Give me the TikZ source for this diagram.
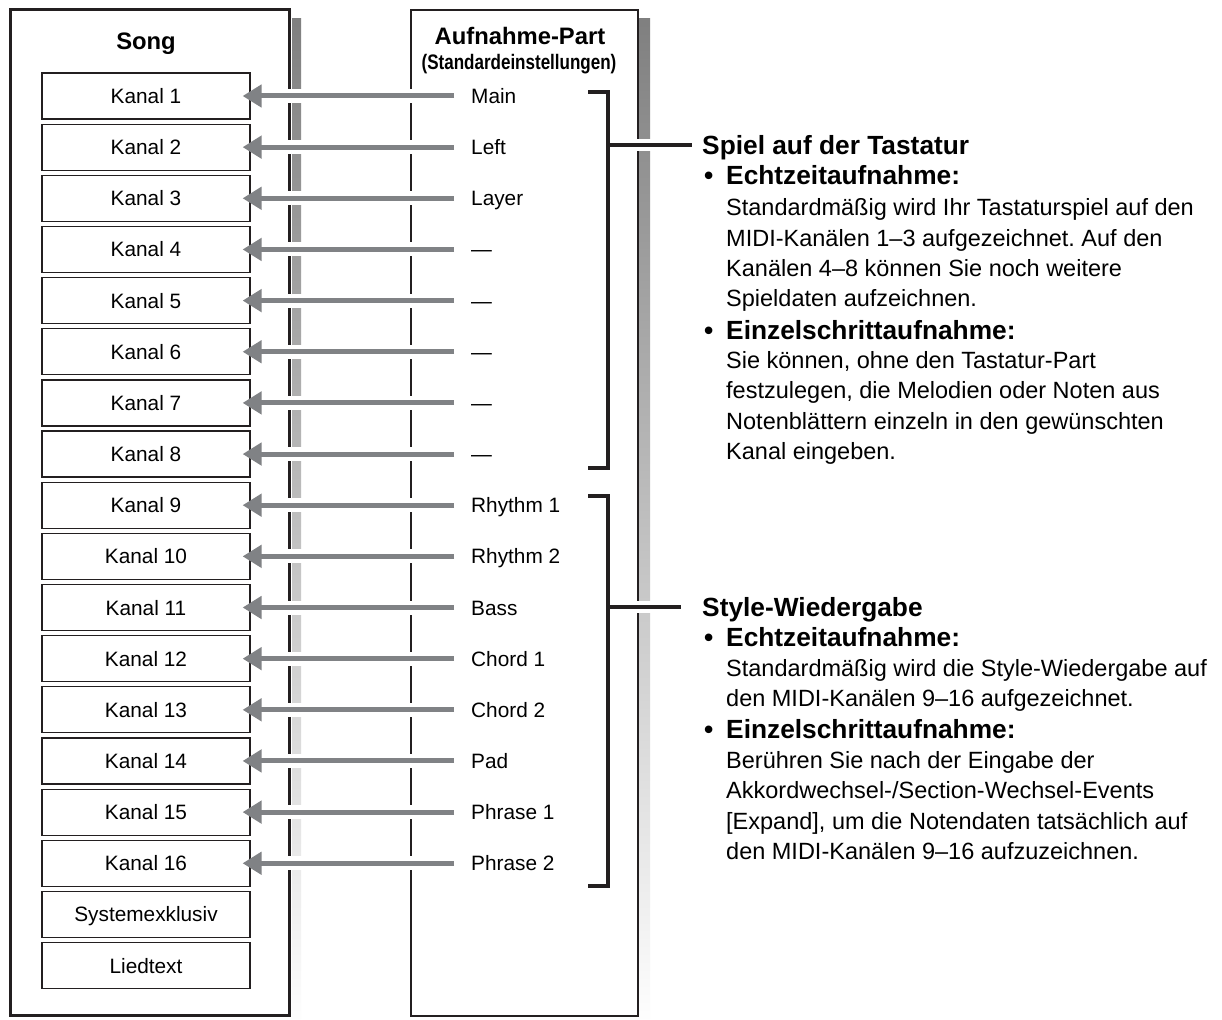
\documentclass[tikz,border=0pt]{standalone}
\usepackage{fontspec}
\setmainfont{Liberation Sans}
\usepackage{graphicx}
\usetikzlibrary{arrows.meta}
\definecolor{ink}{HTML}{231F20}
\definecolor{arrowgray}{HTML}{808285}
\definecolor{shade}{HTML}{D1D3D4}
\frenchspacing
\begin{document}
\begin{tikzpicture}[x=1pt,y=-1pt,
  chan/.style={draw=ink, line width=1.2pt, minimum width=208pt, minimum height=46pt, inner sep=0pt, text height=15pt, text depth=0pt, font=\fontsize{20.8}{24}\selectfont},
  part/.style={anchor=west, inner sep=0pt, text height=15pt, text depth=0pt, font=\fontsize{20.8}{24}\selectfont},
  feed/.style={line width=5pt, arrowgray, -{Triangle[length=19pt,width=22pt]}},
  halo/.style={line width=14pt, white},
  brace/.style={line width=3.2pt, ink, line join=miter},
  head/.style={anchor=west, inner sep=0pt, text height=18.9pt, text depth=0pt, font=\bfseries\fontsize{26.3}{30}\selectfont},
  body/.style={anchor=west, inner sep=0pt, text height=16.9pt, text depth=0pt, font=\fontsize{23.5}{28}\selectfont},
  title/.style={inner sep=0pt, text height=17.1pt, text depth=0pt, font=\bfseries\fontsize{23.8}{28}\selectfont},
]
\useasboundingbox (0,0) rectangle (1222,1019);
\fill[white] (0,0) rectangle (1222,1019);
% shadows
\fill[shade] (20,19) rectangle (301,1030);
\fill[shade] (420,19) rectangle (650,1030);
% song box
\fill[white] (7,7) rectangle (292,1018);
\draw[ink, line width=3pt] (10,10) rectangle (289,1015);
% part box
\draw[ink, line width=1.2pt, fill=white] (411,10) rectangle (638,1016);
% titles
\node[title] (songtitle) at (146,41) {Song};
\node[title] (parttitle) at (520,36) {Aufnahme-Part};
\node[inner sep=0pt, font=\bfseries\fontsize{21}{25}\selectfont] (partsub) at (519,64) {\scalebox{0.81}[1]{(Standardeinstellungen)}};
% channels
\foreach \i in {1,...,16} {
  \node[chan] (k\i) at (146,{96+51.15*(\i-1)}) {Kanal \i};
}
\node[chan] (k17) at (146,{96+51.15*16}) {Systemexklusiv};
\node[chan] (k18) at (146,{96+51.15*17}) {Liedtext};
% parts and arrows
\foreach \t [count=\i] in {Main,Left,Layer,—,—,—,—,—,Rhythm 1,Rhythm 2,Bass,Chord 1,Chord 2,Pad,Phrase 1,Phrase 2} {
  \node[part] (p\i) at (471,{96+51.15*(\i-1)}) {\t};
  \draw[halo] ([xshift=-17pt]p\i.west) -- ([xshift=15pt]k\i.east);
  \draw[feed] ([xshift=-17pt]p\i.west) -- ([xshift=-8pt]k\i.east);
}
% brackets
\draw[brace] (588,92) -- (608,92) -- (608,468) -- (588,468);
\draw[brace] (588,496) -- (608,496) -- (608,886) -- (588,886);
\coordinate (m1) at (608,145);
\coordinate (m2) at (608,607);
% right text: keyboard
\node[head] (h1) at (702,145) {Spiel auf der Tastatur};
\node[head] (b1) at (704,175) {•};
\node[head] (e1) at (726,175) {Echtzeitaufnahme:};
\node[body] (t1) at (726,207) {Standardmäßig wird Ihr Tastaturspiel auf den};
\node[body] (t2) at (726,238) {MIDI-Kanälen 1–3 aufgezeichnet. Auf den};
\node[body] (t3) at (726,268) {Kanälen 4–8 können Sie noch weitere};
\node[body] (t4) at (726,298) {Spieldaten aufzeichnen.};
\node[head] (b2) at (704,330) {•};
\node[head] (e2) at (726,330) {Einzelschrittaufnahme:};
\node[body] (t5) at (726,360) {Sie können, ohne den Tastatur-Part};
\node[body] (t6) at (726,390) {festzulegen, die Melodien oder Noten aus};
\node[body] (t7) at (726,421) {Notenblättern einzeln in den gewünschten};
\node[body] (t8) at (726,451) {Kanal eingeben.};
% right text: style
\node[head] (h2) at (702,607) {Style-Wiedergabe};
\node[head] (b3) at (704,637) {•};
\node[head] (e3) at (726,637) {Echtzeitaufnahme:};
\node[body] (s1) at (726,668) {Standardmäßig wird die Style-Wiedergabe auf};
\node[body] (s2) at (726,698) {den MIDI-Kanälen 9–16 aufgezeichnet.};
\node[head] (b4) at (704,729) {•};
\node[head] (e4) at (726,729) {Einzelschrittaufnahme:};
\node[body] (s3) at (726,760) {Berühren Sie nach der Eingabe der};
\node[body] (s4) at (726,790) {Akkordwechsel-/Section-Wechsel-Events};
\node[body] (s5) at (726,821) {[Expand], um die Notendaten tatsächlich auf};
\node[body] (s6) at (726,851) {den MIDI-Kanälen 9–16 aufzuzeichnen.};
% bracket connectors
\draw[white, line width=12pt] ([xshift=8pt]m1) -- ([xshift=-16pt]h1.west);
\draw[brace, shorten >=10pt] (m1) -- (h1.west);
\draw[white, line width=12pt] ([xshift=8pt]m2) -- ([xshift=-28pt]h2.west);
\draw[brace, shorten >=21pt] (m2) -- (h2.west);
\end{tikzpicture}
\end{document}
